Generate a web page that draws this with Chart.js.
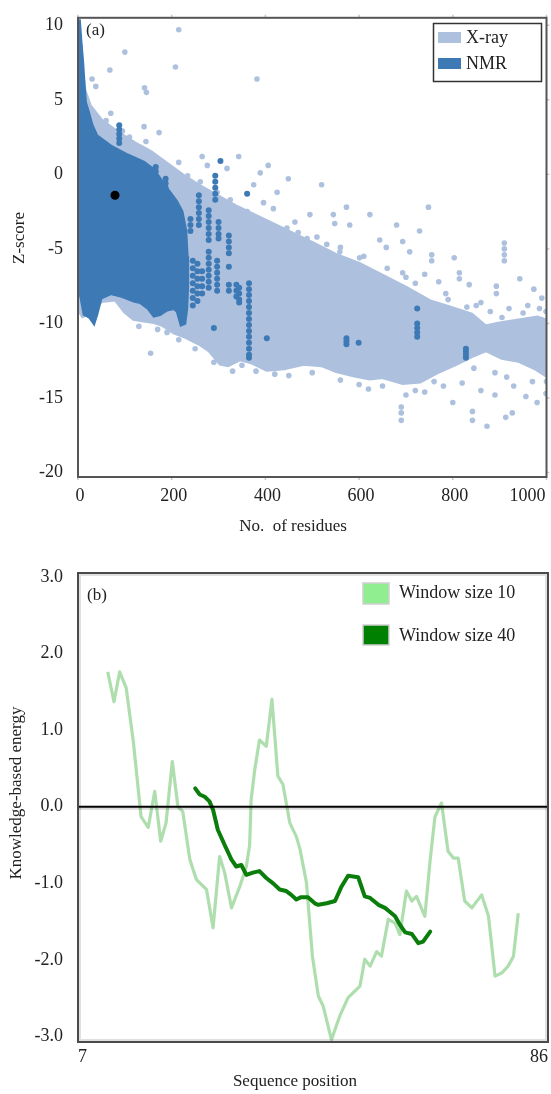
<!DOCTYPE html>
<html>
<head>
<meta charset="utf-8">
<script src="https://cdn.jsdelivr.net/npm/chart.js@4.4.1/dist/chart.umd.min.js"></script>
<style>
  html, body { margin: 0; padding: 0; background: #fff; }
  #wrap { position: relative; width: 551px; height: 1094px; }
  canvas { position: absolute; left: 0; }
  #ca { top: 0; }
  #cb { top: 545px; }
</style>
</head>
<body>
<div id="wrap">
  <canvas id="ca" width="551" height="545" style="width:551px;height:545px"></canvas>
  <canvas id="cb" width="551" height="549" style="width:551px;height:549px"></canvas>
</div>
<script>
// ---- panel (a): Z-score vs number of residues ----
const xTicksA = [0, 200, 400, 600, 800, 1000];
const yTicksA = [10, 5, 0, -5, -10, -15, -20];

// outline of the dense X-ray cloud (upper edge left->right, lower edge right->left)
const xrayEdgeX = [0, 4, 8, 14, 25, 50, 85, 120, 155, 190, 225, 260, 300, 340, 380, 420, 460, 500, 550, 600, 650, 700, 750, 800, 840, 870, 900, 940, 980, 1000,
  1000, 975, 940, 905, 871, 840, 808, 765, 730, 693, 650, 623, 590, 552, 520, 481, 440, 403, 370, 346, 320, 304, 280, 261, 230, 205, 180, 162, 140, 119, 100, 80, 50, 25, 10, 0];
const xrayEdgeY = [10.2, 9, 7, 5.6, 4.6, 3.6, 2.8, 2.1, 1.5, 0.7, -0.1, -0.8, -1.5, -2.2, -2.8, -3.4, -4.0, -4.6, -5.4, -6.0, -6.8, -7.6, -8.5, -9.0, -9.4, -10.2, -10.0, -9.8, -9.6, -9.8,
  -13.5, -13.0, -12.5, -12.3, -11.8, -12.2, -12.7, -13.3, -13.9, -14.0, -13.6, -13.7, -13.5, -13.2, -12.8, -12.7, -13.0, -13.1, -12.6, -12.4, -12.8, -12.7, -11.8, -11.4, -10.9, -10.6, -10.1, -9.9, -9.8, -9.7, -9.2, -8.4, -8.5, -9.3, -9.5, -9.0];

// scattered X-ray structures outside the dense cloud
const xrayDotX = [215, 100, 68, 208, 382, 142, 146, 38, 30, 70, 141, 173, 123, 145, 60, 95, 110,
  265, 343, 215, 276, 318, 389, 406, 449, 520, 375, 425, 396, 417, 463, 495, 545, 573, 580, 623, 644, 658, 680, 693, 708, 693, 601, 559, 531, 489, 446, 361, 325, 297, 261, 234, 219,
  748, 729, 548, 910, 910, 910, 910, 755, 755, 814, 814, 835, 893, 893, 943, 973, 999, 803, 740, 770, 785, 860, 920, 960, 990, 1000, 880, 850,
  155, 690, 690, 690, 700, 720, 800, 842, 842, 873, 913, 927, 980, 956, 999, 780, 820, 860, 890, 930, 970, 1000, 650, 600, 560, 500, 450, 420, 380, 330, 290, 250, 215, 190, 170, 130, 350, 620, 740, 760,
  470, 510, 560, 610, 660, 700, 720, 790, 830, 905, 950, 985, 995, 915, 890, 845];
const xrayDotY = [9.7, 8.2, 7.0, 7.2, 6.4, 5.8, 5.5, 5.9, 6.4, 4.1, 3.2, 2.8, 1.9, 2.2, 3.6, 2.9, 2.5,
  1.2, 1.2, 0.8, 0.6, 0.4, 0.1, 0.6, -0.3, -0.7, -0.7, -1.2, -1.9, -2.3, -3.2, -2.7, -2.7, -2.2, -3.4, -2.7, -4.4, -4.9, -3.4, -4.5, -5.2, -6.6, -5.6, -5.2, -4.7, -4.3, -3.6, -2.5, -1.7, -1.2, -0.5, -0.1, -0.5,
  -2.2, -3.8, -3.3, -4.6, -5.0, -5.4, -5.8, -5.4, -5.8, -6.6, -7.0, -7.4, -7.5, -8.0, -7.0, -7.7, -9.2, -5.6, -6.7, -7.2, -8.0, -8.6, -9.0, -8.8, -8.3, -10.0, -9.2, -8.8,
  -12.0, -15.6, -16.0, -16.5, -14.8, -14.5, -15.3, -15.9, -16.5, -16.9, -16.3, -16.0, -15.3, -14.9, -14.7, -14.2, -14.0, -14.5, -14.8, -14.2, -13.9, -13.9, -14.2, -14.1, -13.8, -13.3, -13.5, -13.4, -13.2, -13.2, -12.6, -11.7, -11.1, -10.6, -10.4, -10.2, -12.8, -14.4, -14.6, -13.9,
  -3.9, -4.2, -4.9, -5.5, -6.3, -6.9, -7.3, -8.4, -8.9, -9.6, -9.3, -9.0, -11.0, -13.6, -13.3, -13.0];

// outline of the dense NMR cloud
const nmrEdgeX = [0, 3, 6, 10, 13, 16, 22, 30, 40, 70, 106, 141, 162, 191, 210, 222, 230, 233, 234, 232, 228,
  220, 212, 205, 190, 175, 162, 150, 133, 119, 95, 70, 49, 40, 34, 25, 20, 13, 6, 0];
const nmrEdgeY = [10.3, 10.3, 9, 7.5, 6, 4.8, 4.2, 3.3, 2.6, 1.9, 1.3, 0.8, 0.3, -1.0, -1.8, -2.5, -3.8, -5.5, -7.5, -9.0, -10.0,
  -10.1, -9.2, -9.0, -9.1, -9.4, -9.5, -9.0, -8.6, -8.5, -8.2, -8.0, -8.3, -9.4, -10.0, -9.6, -9.5, -9.4, -8.2, -7.8];

// NMR structures outside the dense block: columns of points at one size
const nmrColX = [88, 166, 187, 240, 258, 279, 293, 300, 322, 361, 304, 279, 297, 245, 255, 265, 338, 344, 365, 290, 403, 573, 599, 724, 828];
const nmrColY = [
  [3.3, 3.0, 2.7, 2.4, 2.1],
  [0.5, 0.2, -0.1, -0.4],
  [-0.3, -0.6, -0.9],
  [-3.0, -3.4, -3.8],
  [-1.4, -1.8, -2.2, -2.6, -3.0, -3.4],
  [-2.4, -2.8, -3.2, -3.6, -4.0, -4.4],
  [-0.1, -0.5, -0.9, -1.3, -1.7],
  [-3.2, -3.6, -4.0, -4.3],
  [-4.1, -4.5, -4.9, -5.3, -6.2, -7.4, -7.8],
  [-1.3],
  [0.9],
  [-5.2, -5.6, -6.0, -6.4, -6.8, -7.2, -7.6],
  [-5.8, -6.2, -6.6, -7.0, -7.4, -7.8],
  [-5.8, -6.3, -6.8, -7.3, -7.8, -8.3, -8.8],
  [-6.0, -6.5, -7.0, -7.5, -8.0, -8.5],
  [-6.5, -7.0, -7.5, -8.0],
  [-7.4, -7.8, -8.2],
  [-7.6, -8.0, -8.4, -8.6],
  [-7.3, -7.7, -8.1, -8.5, -8.9, -9.3, -9.7, -10.1, -10.5, -10.9, -11.3, -11.7, -12.1, -12.3],
  [-10.3],
  [-11.0],
  [-11.0, -11.2, -11.4],
  [-11.3],
  [-9.0, -10.0, -10.3, -10.6, -10.9],
  [-11.7, -11.9, -12.1, -12.3]
];

const markX = [79];
const markY = [-1.4];

// ---- panel (b): knowledge-based energy along the sequence ----
const xTicksB = [7, 86];
const yTicksB = [3, 2, 1, 0, -1, -2, -3];

const w10Pos = [12.0, 13.05, 14.0, 15.1, 16.3, 17.6, 18.8, 19.9, 20.9, 21.8, 22.85, 23.8, 24.6, 25.8, 26.9, 28.6, 29.7, 30.8, 31.65, 32.8, 34.2, 35.3, 35.85, 36.1, 36.7, 37.5, 38.65, 39.6, 40.6, 41.45, 42.6, 43.7, 44.3, 45.4, 46.4, 47.4, 48.2, 49.6, 51.0, 52.4, 54.4, 55.2, 56.1, 57.2, 58.0, 59.15, 60.3, 61.1, 62.2, 63.1, 63.9, 65.3, 66.2, 67.0, 68.1, 69.2, 70.1, 70.9, 72.0, 73.2, 74.85, 76.0, 77.1, 78.2, 79.3, 80.2, 81.0];
const w10Energy = [1.76, 1.37, 1.76, 1.55, 0.85, -0.13, -0.27, 0.2, -0.45, -0.21, 0.59, 0.0, -0.06, -0.69, -0.95, -1.08, -1.58, -0.65, -0.86, -1.32, -1.04, -0.78, -0.5, 0.09, 0.48, 0.87, 0.79, 1.40, 0.40, 0.29, -0.21, -0.39, -0.55, -0.99, -1.95, -2.47, -2.6, -3.04, -2.73, -2.49, -2.34, -1.99, -2.08, -1.89, -1.95, -1.47, -1.52, -1.67, -1.10, -1.23, -1.17, -1.43, -0.69, -0.13, 0.05, -0.58, -0.67, -0.67, -1.23, -1.32, -1.15, -1.43, -2.21, -2.17, -2.08, -1.95, -1.39];

const w40Pos = [26.7, 27.45, 28.3, 29.1, 29.7, 30.5, 31.65, 32.8, 33.6, 34.45, 35.3, 36.4, 37.5, 38.65, 39.8, 40.9, 42.0, 42.85, 43.7, 44.5, 45.65, 46.8, 47.4, 48.8, 50.2, 51.3, 52.4, 54.1, 55.2, 56.1, 57.5, 58.6, 59.4, 60.3, 61.1, 62.0, 63.1, 64.2, 65.0, 66.2];
const w40Energy = [0.24, 0.16, 0.13, 0.07, -0.04, -0.30, -0.50, -0.69, -0.78, -0.76, -0.89, -0.86, -0.84, -0.93, -1.0, -1.08, -1.10, -1.15, -1.21, -1.18, -1.18, -1.26, -1.28, -1.26, -1.23, -1.04, -0.90, -0.92, -1.17, -1.19, -1.28, -1.32, -1.37, -1.43, -1.54, -1.64, -1.66, -1.78, -1.76, -1.63];

const SERIF = '"Liberation Serif", "DejaVu Serif", serif';
const XRAY = '#adc1df';
const NMR = '#3d7ab5';
const TXT = '#222';

const pts = (xs, ys) => xs.map((x, i) => ({ x: x, y: ys[i] }));
const nmrDots = [];
nmrColX.forEach((x, i) => nmrColY[i].forEach(y => nmrDots.push({ x: x, y: y })));

function fixTicks(list) {
  return scale => { scale.ticks = list.map(v => ({ value: v })); };
}

function vText(ctx, txt, x, y) {
  ctx.save();
  ctx.translate(x, y);
  ctx.rotate(-Math.PI / 2);
  ctx.textAlign = 'center';
  ctx.textBaseline = 'middle';
  ctx.fillText(txt, 0, 0);
  ctx.restore();
}

const decorA = {
  id: 'decorA',
  afterDraw(chart) {
    const { ctx, chartArea: a, scales: { x, y } } = chart;
    ctx.save();
    // faint outer tick marks
    ctx.strokeStyle = '#c8c8c8';
    ctx.lineWidth = 1.5;
    xTicksA.forEach(v => {
      const px = x.getPixelForValue(v);
      ctx.beginPath();
      ctx.moveTo(px, a.top - 3); ctx.lineTo(px, a.top);
      ctx.moveTo(px, a.bottom); ctx.lineTo(px, a.bottom + 3);
      ctx.stroke();
    });
    yTicksA.forEach(v => {
      const py = y.getPixelForValue(v);
      ctx.beginPath();
      ctx.moveTo(a.right, py); ctx.lineTo(a.right + 3, py);
      ctx.stroke();
    });
    // frame
    ctx.strokeStyle = '#555';
    ctx.lineWidth = 2;
    ctx.strokeRect(a.left, a.top, a.right - a.left, a.bottom - a.top);

    ctx.fillStyle = TXT;
    ctx.font = '18px ' + SERIF;
    ctx.textBaseline = 'middle';
    xTicksA.forEach((v, i) => {
      const last = i === xTicksA.length - 1;
      ctx.textAlign = last ? 'right' : 'center';
      ctx.fillText(String(v), x.getPixelForValue(v) + (last ? -1 : 2), 496);
    });

    ctx.font = '17px ' + SERIF;
    ctx.textAlign = 'center';
    ctx.fillText('No.  of residues', 293, 527);
    vText(ctx, 'Z-score', 20, 238);

    ctx.textAlign = 'left';
    ctx.fillText('(a)', 86, 31);

    // legend
    ctx.fillStyle = '#fff';
    ctx.fillRect(433, 23, 108, 58);
    ctx.strokeStyle = '#333';
    ctx.lineWidth = 1.5;
    ctx.strokeRect(433.5, 23.5, 108, 58);
    ctx.fillStyle = XRAY;
    ctx.fillRect(438, 32, 23, 11);
    ctx.fillStyle = NMR;
    ctx.fillRect(438, 58, 23, 11);
    ctx.fillStyle = TXT;
    ctx.font = '18px ' + SERIF;
    ctx.fillText('X-ray', 466, 38);
    ctx.fillText('NMR', 466, 64);
    ctx.restore();
  }
};

new Chart(document.getElementById('ca'), {
  type: 'line',
  data: {
    datasets: [
      { label: 'X-ray', data: pts(xrayEdgeX, xrayEdgeY), fill: 'shape', backgroundColor: XRAY, borderColor: XRAY, borderWidth: 4, pointRadius: 0, tension: 0, order: 5 },
      { label: 'X-ray dots', data: pts(xrayDotX, xrayDotY), showLine: false, pointRadius: 2.8, pointBorderWidth: 0, pointBackgroundColor: XRAY, order: 4 },
      { label: 'NMR', data: pts(nmrEdgeX, nmrEdgeY), fill: 'shape', backgroundColor: NMR, borderColor: NMR, borderWidth: 3, pointRadius: 0, tension: 0, order: 3 },
      { label: 'NMR dots', data: nmrDots, showLine: false, pointRadius: 3, pointBorderWidth: 0, pointBackgroundColor: NMR, order: 2 },
      { label: 'mark', data: pts(markX, markY), showLine: false, pointRadius: 4.5, pointBorderWidth: 0, pointBackgroundColor: '#000', order: 1 }
    ]
  },
  options: {
    responsive: false,
    animation: false,
    devicePixelRatio: 1,
    events: [],
    layout: { padding: { top: 15, right: 3, left: 0, bottom: 28 } },
    plugins: {
      legend: { display: false },
      tooltip: { enabled: false },
      filler: { drawTime: 'beforeDatasetDraw' }
    },
    scales: {
      x: {
        type: 'linear', min: 0, max: 1000,
        grid: { display: false }, border: { display: false },
        ticks: { display: false },
        afterFit: s => { s.height = 40; }
      },
      y: {
        type: 'linear', min: -20.3, max: 10.5,
        afterBuildTicks: fixTicks(yTicksA),
        grid: { display: false }, border: { display: false },
        ticks: { font: { family: SERIF, size: 18 }, color: TXT, padding: 7 },
        afterFit: s => { s.width = 78; }
      }
    }
  },
  plugins: [decorA]
});

const zeroLine = {
  id: 'zeroLine',
  afterDatasetsDraw(chart) {
    const { ctx, chartArea: a, scales: { y } } = chart;
    const py = y.getPixelForValue(0);
    ctx.save();
    ctx.strokeStyle = 'rgba(0,0,0,0.15)';
    ctx.lineWidth = 2;
    ctx.beginPath(); ctx.moveTo(a.left, py + 2); ctx.lineTo(a.right, py + 2); ctx.stroke();
    ctx.strokeStyle = '#000';
    ctx.lineWidth = 2.2;
    ctx.beginPath(); ctx.moveTo(a.left, py); ctx.lineTo(a.right, py); ctx.stroke();
    ctx.restore();
  }
};

const decorB = {
  id: 'decorB',
  afterDraw(chart) {
    const { ctx, chartArea: a } = chart;
    ctx.save();
    ctx.strokeStyle = 'rgba(0,0,0,0.12)';
    ctx.lineWidth = 2;
    ctx.strokeRect(a.left + 2, a.top + 2, a.right - a.left - 4, a.bottom - a.top - 4);
    ctx.strokeStyle = '#4a4a4a';
    ctx.lineWidth = 2;
    ctx.strokeRect(a.left, a.top, a.right - a.left, a.bottom - a.top);

    ctx.fillStyle = TXT;
    ctx.font = '17px ' + SERIF;
    ctx.textBaseline = 'middle';
    ctx.textAlign = 'center';
    ctx.fillText('Sequence position', 295, 537);
    vText(ctx, 'Knowledge-based energy', 17, 248);
    ctx.textAlign = 'left';
    ctx.fillText('(b)', 87, 51);

    // legend
    ctx.font = '18px ' + SERIF;
    ctx.lineWidth = 1.5;
    ctx.strokeStyle = '#cfcfcf';
    ctx.fillStyle = '#90ee90';
    ctx.fillRect(363, 38, 26, 21);
    ctx.strokeRect(363, 38, 26, 21);
    ctx.fillStyle = '#008000';
    ctx.fillRect(363, 80, 26, 20);
    ctx.strokeRect(363, 80, 26, 20);
    ctx.fillStyle = TXT;
    ctx.fillText('Window size 10', 399, 48);
    ctx.fillText('Window size 40', 399, 91);
    ctx.restore();
  }
};

new Chart(document.getElementById('cb'), {
  type: 'line',
  data: {
    datasets: [
      { label: 'Window size 10', data: pts(w10Pos, w10Energy), borderColor: 'rgba(120,200,120,0.6)', borderWidth: 3.2, borderJoinStyle: 'round', pointRadius: 0, tension: 0, order: 2 },
      { label: 'Window size 40', data: pts(w40Pos, w40Energy), borderColor: '#0a7d0a', borderWidth: 4, borderJoinStyle: 'round', borderCapStyle: 'round', pointRadius: 0, tension: 0, order: 1 }
    ]
  },
  options: {
    responsive: false,
    animation: false,
    devicePixelRatio: 1,
    events: [],
    layout: { padding: { top: 28, right: 3, left: 0, bottom: 22 } },
    plugins: { legend: { display: false }, tooltip: { enabled: false } },
    scales: {
      x: {
        type: 'linear', min: 7, max: 86,
        afterBuildTicks: fixTicks(xTicksB),
        grid: { display: false }, border: { display: false },
        ticks: { font: { family: SERIF, size: 18 }, color: TXT, padding: -4, align: 'inner', maxRotation: 0, autoSkip: false },
        afterFit: s => { s.height = 30; }
      },
      y: {
        type: 'linear', min: -3.07, max: 3.05,
        afterBuildTicks: fixTicks(yTicksB),
        grid: { display: false }, border: { display: false },
        ticks: { font: { family: SERIF, size: 18 }, color: TXT, padding: 7, callback: v => v.toFixed(1) },
        afterFit: s => { s.width = 78; }
      }
    }
  },
  plugins: [zeroLine, decorB]
});
</script>
</body>
</html>
